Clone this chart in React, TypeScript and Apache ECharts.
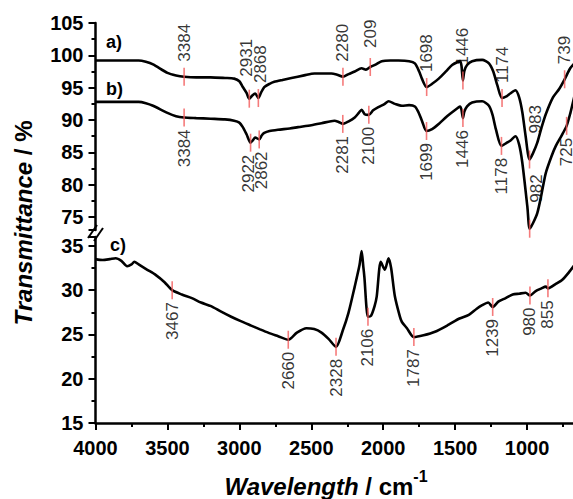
import React, { useEffect, useRef } from 'react';
import * as echarts from 'echarts';

// Spectrum a)
const aWn = [4000, 3850, 3700, 3650, 3600, 3500, 3440, 3384, 3300, 3200, 3100, 3036, 3000, 2976, 2950, 2931, 2910, 2890, 2868, 2850, 2827, 2790, 2757, 2700, 2638, 2550, 2478, 2360, 2320, 2280, 2240, 2198, 2150, 2120, 2090, 2050, 2010, 1950, 1894, 1820, 1780, 1750, 1731, 1698, 1660, 1614, 1560, 1521, 1480, 1466, 1456, 1446, 1436, 1417, 1382, 1312, 1265, 1235, 1207, 1174, 1140, 1117, 1081, 1055, 1033, 1010, 983, 960, 929, 900, 870, 820, 777, 739, 700, 672];
const aT = [99.2, 99.2, 99.2, 99.0, 98.6, 97.3, 96.9, 96.7, 96.6, 96.6, 96.5, 96.4, 96.0, 95.1, 94.2, 93.3, 93.8, 94.1, 93.4, 94.2, 95.1, 95.6, 95.9, 96.2, 96.5, 96.9, 97.2, 97.2, 97.0, 96.7, 97.1, 97.5, 98.0, 97.8, 98.2, 98.6, 99.1, 99.2, 99.2, 99.1, 98.75, 97.5, 96.4, 95.1, 95.6, 96.4, 97.6, 98.5, 99.0, 99.1, 98.4, 96.1, 97.6, 98.5, 99.1, 99.3, 98.75, 97.5, 95.4, 93.4, 93.7, 94.1, 94.6, 93.5, 91.2, 87.5, 83.9, 84.8, 86.5, 88.8, 90.9, 93.5, 94.8, 96.3, 98.0, 98.75];

// Spectrum b)
const bWn = [4000, 3850, 3700, 3650, 3600, 3500, 3440, 3384, 3300, 3200, 3100, 3036, 3000, 2976, 2950, 2922, 2905, 2890, 2862, 2845, 2827, 2790, 2732, 2650, 2592, 2500, 2429, 2339, 2310, 2281, 2240, 2198, 2170, 2150, 2129, 2100, 2070, 2034, 1989, 1963, 1918, 1870, 1820, 1780, 1755, 1731, 1699, 1660, 1614, 1560, 1521, 1480, 1466, 1456, 1446, 1436, 1417, 1382, 1312, 1265, 1240, 1217, 1178, 1140, 1117, 1081, 1055, 1033, 998, 982, 960, 929, 900, 870, 830, 800, 760, 725, 700, 672];
const bT = [92.8, 92.8, 92.8, 92.6, 92.2, 91.1, 90.6, 90.4, 90.3, 90.2, 90.1, 89.9, 89.6, 88.9, 87.8, 86.5, 86.9, 87.3, 87.0, 87.6, 88.0, 88.3, 88.5, 88.7, 88.9, 89.2, 89.5, 89.9, 89.7, 89.4, 89.8, 90.4, 91.1, 91.6, 90.9, 90.8, 91.5, 92.0, 92.5, 92.9, 92.5, 92.2, 92.3, 92.1, 91.2, 89.9, 88.3, 88.6, 89.4, 90.5, 91.2, 91.9, 92.1, 91.6, 90.3, 91.3, 92.1, 92.7, 92.9, 92.2, 90.8, 88.6, 86.0, 86.5, 86.8, 87.5, 86.2, 83.4, 76.6, 73.2, 74.0, 75.6, 78.5, 81.8, 84.4, 86.0, 87.6, 89.1, 91.0, 93.6];

// Spectrum c)
const cWn = [4000, 3950, 3900, 3860, 3820, 3780, 3750, 3730, 3700, 3640, 3580, 3520, 3467, 3400, 3330, 3267, 3197, 3130, 3057, 2990, 2918, 2860, 2800, 2730, 2660, 2600, 2534, 2480, 2429, 2380, 2328, 2280, 2242, 2198, 2165, 2150, 2138, 2131, 2106, 2085, 2060, 2045, 2017, 1989, 1963, 1945, 1919, 1884, 1870, 1835, 1787, 1720, 1640, 1545, 1470, 1405, 1350, 1312, 1270, 1239, 1200, 1149, 1100, 1055, 1010, 980, 940, 900, 870, 855, 800, 753, 700, 672];
const cT = [33.5, 33.4, 33.5, 33.6, 33.3, 32.7, 32.9, 33.2, 32.9, 32.3, 31.7, 30.9, 30.0, 29.5, 29.1, 28.6, 28.2, 27.6, 27.0, 26.5, 26.0, 25.6, 25.2, 24.8, 24.4, 25.2, 25.7, 25.6, 25.2, 24.5, 23.6, 25.5, 27.4, 30.4, 32.8, 34.4, 32.6, 31.5, 27.0, 27.1, 28.2, 29.3, 33.2, 32.3, 33.6, 32.5, 29.3, 27.0, 26.4, 25.7, 24.7, 24.9, 25.3, 26.1, 26.8, 27.2, 27.9, 28.3, 28.6, 28.1, 28.7, 29.1, 29.5, 29.6, 29.7, 29.4, 29.9, 30.2, 30.4, 30.2, 30.7, 31.2, 32.2, 32.8];

// Peak annotations
const aPeaks = [3384, 2931, 2868, 2280, 2090, 1698, 1446, 1174, 983, 739];
const aPeakLabels = ['3384', '2931', '2868', '2280', '209', '1698', '1446', '1174', '983', '739'];
const bPeaks = [3384, 2922, 2862, 2281, 2100, 1699, 1446, 1178, 982, 725];
const bPeakLabels = ['3384', '2922', '2862', '2281', '2100', '1699', '1446', '1178', '982', '725'];
const bPeaksLabelledAbove = [982];
const cPeaks = [3467, 2660, 2328, 2106, 1787, 1239, 980, 855];
const cPeakLabels = ['3467', '2660', '2328', '2106', '1787', '1239', '980', '855'];

const curveNames = ['a)', 'b)', 'c)'];

// small label nudges in screen px [right, down] so crowded labels sit as in the figure
const aNudge: Record<number, number[]> = { 2931: [-3, -7], 2868: [2, 0], 983: [6, -11], 2090: [0, -4] };
const bNudge: Record<number, number[]> = { 2922: [-2, 0], 2862: [2, 0], 982: [7, -11] };
const cNudge: Record<number, number[]> = {};

const FONT = "Arial, 'Liberation Sans', sans-serif";

const pairs = (wn: number[], t: number[]) => wn.map((w, i) => [w, t[i]]);
const valueAt = (wn: number[], t: number[], x: number) => t[wn.indexOf(x)];

const labelAbove = { position: 'top', align: 'left', verticalAlign: 'middle', distance: 6 };
const labelBelow = { position: 'bottom', align: 'right', verticalAlign: 'middle', distance: 3 };

// label offset is expressed in the label's rotated (90°) frame
const toRotatedOffset = (s: number[]) => [-s[1], s[0]];

function peakSeries(
  wn: number[],
  t: number[],
  peaks: number[],
  labels: string[],
  above: (p: number) => boolean,
  nudge: Record<number, number[]>,
  gridIdx: number
) {
  return {
    type: 'scatter',
    xAxisIndex: gridIdx,
    yAxisIndex: gridIdx,
    silent: true,
    z: 5,
    symbol: 'rect',
    symbolSize: [1.6, 18],
    itemStyle: { color: '#f25a5a' },
    data: peaks.map((p, i) => ({
      value: [p, valueAt(wn, t, p)],
      label: {
        ...(above(p) ? labelAbove : labelBelow),
        formatter: labels[i],
        offset: toRotatedOffset(nudge[p] || [0, 0]),
      },
    })),
    label: {
      show: true,
      rotate: 90,
      fontSize: 17,
      color: '#000',
      fontFamily: FONT,
    },
  };
}

const lineSeries = (wn: number[], t: number[], gridIdx: number) => ({
  type: 'line',
  xAxisIndex: gridIdx,
  yAxisIndex: gridIdx,
  silent: true,
  showSymbol: false,
  smooth: 0.25,
  lineStyle: { color: '#000', width: 2.6 },
  data: pairs(wn, t),
});

export default function App() {
  const ref = useRef<HTMLDivElement>(null);
  useEffect(() => {
    if (!ref.current) return;
    const chart = echarts.init(ref.current, undefined, { renderer: 'svg' });
    const axisLine = { show: true, onZero: false, lineStyle: { color: '#000', width: 2.5 } };
    const axisTick = { show: true, inside: false, length: 7, lineStyle: { color: '#000', width: 2 } };
    const minorTick = { show: true, splitNumber: 2, length: 4, lineStyle: { color: '#000', width: 2 } };
    const axisLabel = (margin: number) => ({
      fontSize: 20,
      fontWeight: 'bold',
      color: '#000',
      fontFamily: FONT,
      margin,
      formatter: (v: number) => (v % 5 === 0 ? String(v) : ''),
    });
    const xCommon = {
      type: 'value',
      min: 500,
      max: 4000,
      interval: 500,
      inverse: true,
      splitLine: { show: false },
    };
    chart.setOption({
      animation: false,
      backgroundColor: '#fff',
      grid: [
        { left: 95.5, right: -26, top: 23, height: 207, outerBoundsMode: 'none', containLabel: false },
        { left: 95.5, right: -26, top: 237, height: 186, outerBoundsMode: 'none', containLabel: false },
      ],
      xAxis: [
        { ...xCommon, gridIndex: 0, show: false },
        {
          ...xCommon,
          gridIndex: 1,
          axisLine,
          axisTick,
          minorTick,
          axisLabel: { ...axisLabel(15), formatter: (v: number) => (v >= 1000 ? String(v) : '') },
        },
      ],
      yAxis: [
        {
          type: 'value',
          gridIndex: 0,
          min: 73,
          max: 105,
          minInterval: 5,
          maxInterval: 5,
          axisLine,
          axisTick,
          minorTick,
          splitLine: { show: false },
          axisLabel: axisLabel(12),
        },
        {
          type: 'value',
          gridIndex: 1,
          min: 15,
          max: 36,
          interval: 5,
          axisLine,
          axisTick,
          minorTick,
          splitLine: { show: false },
          axisLabel: axisLabel(12),
        },
      ],
      series: [
        lineSeries(aWn, aT, 0),
        lineSeries(bWn, bT, 0),
        lineSeries(cWn, cT, 1),
        peakSeries(aWn, aT, aPeaks, aPeakLabels, () => true, aNudge, 0),
        peakSeries(bWn, bT, bPeaks, bPeakLabels, (p) => bPeaksLabelledAbove.includes(p), bNudge, 0),
        peakSeries(cWn, cT, cPeaks, cPeakLabels, () => false, cNudge, 1),
      ],
      graphic: [
        { type: 'text', left: 106, top: 33, style: { text: curveNames[0], fontSize: 18, fontWeight: 'bold', fontFamily: FONT, fill: '#000' } },
        { type: 'text', left: 106, top: 80, style: { text: curveNames[1], fontSize: 18, fontWeight: 'bold', fontFamily: FONT, fill: '#000' } },
        { type: 'text', left: 110, top: 236, style: { text: curveNames[2], fontSize: 18, fontWeight: 'bold', fontFamily: FONT, fill: '#000' } },
        { type: 'line', shape: { x1: 88, y1: 238, x2: 97, y2: 225 }, style: { stroke: '#000', lineWidth: 2 } },
        { type: 'line', shape: { x1: 94, y1: 241, x2: 103, y2: 228 }, style: { stroke: '#000', lineWidth: 2 } },
        {
          type: 'text',
          x: 23,
          y: 223,
          rotation: Math.PI / 2,
          style: {
            text: '{i|Transmittance}{n| / %}',
            align: 'center',
            verticalAlign: 'middle',
            fill: '#000',
            rich: {
              i: { fontSize: 24, fontWeight: 'bold', fontStyle: 'italic', fontFamily: FONT, fill: '#000' },
              n: { fontSize: 24, fontWeight: 'bold', fontFamily: FONT, fill: '#000' },
            },
          },
        },
        {
          type: 'text',
          x: 326,
          y: 483,
          style: {
            text: '{i|Wavelength}{n| / cm}{s|-1}',
            align: 'center',
            verticalAlign: 'middle',
            fill: '#000',
            rich: {
              i: { fontSize: 24, fontWeight: 'bold', fontStyle: 'italic', fontFamily: FONT, fill: '#000', lineHeight: 30, verticalAlign: 'bottom' },
              n: { fontSize: 24, fontWeight: 'bold', fontFamily: FONT, fill: '#000', lineHeight: 30, verticalAlign: 'bottom' },
              s: { fontSize: 16, fontWeight: 'bold', fontFamily: FONT, fill: '#000', lineHeight: 16, verticalAlign: 'top' },
            },
          },
        },
      ],
    });
    return () => chart.dispose();
  }, []);
  return (
    <div
      ref={ref}
      style={{ position: 'fixed', left: 0, top: 0, width: 573, height: 499, background: '#fff' }}
    />
  );
}
